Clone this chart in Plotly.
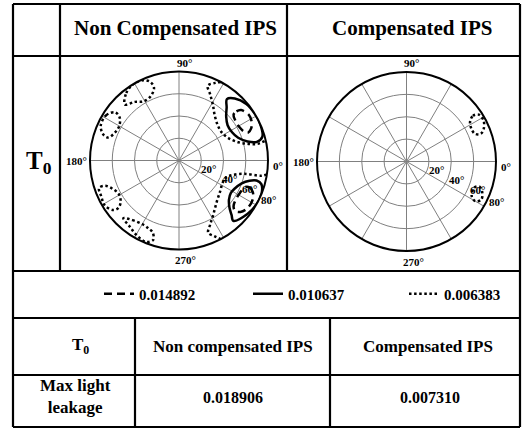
import math
import plotly.graph_objects as go

W, H = 523, 429

# ---------------- data ----------------
level_names = ["0.014892", "0.010637", "0.006383"]

# Non compensated IPS, level 0.006383 (dotted)
nc_dot_ur_r = [80, 77, 72, 66, 59, 52, 47, 46, 49, 56, 64, 72, 80]
nc_dot_ur_t = [62, 65, 69, 65, 59, 52, 42, 33, 24, 17, 13.5, 12, 13]
nc_dot_lr_r = [80, 75, 60, 50, 45.5, 44, 46, 50, 57, 64, 70, 75, 80]
nc_dot_lr_t = [-9, -10.5, -11.5, -15, -19, -27, -36, -47, -57, -64, -68, -65, -62]
nc_dot_l1_r = [70, 77, 80, 79, 75, 69, 63, 62, 66, 70]
nc_dot_l1_t = [134, 128, 121, 114, 110, 109, 114, 121, 127, 134]
nc_dot_l2_r = [77, 77, 72, 66, 62, 63, 67, 72, 77]
nc_dot_l2_t = [156, 148, 143, 144, 150, 157, 162, 161, 156]
nc_dot_l3_r = [76, 70, 65, 62, 64, 69, 74, 78, 77, 76]
nc_dot_l3_t = [199, 199, 203, 209, 215, 218, 217, 211, 205, 199]
nc_dot_l4_r = [72, 68, 66, 67, 69, 75, 79, 77, 74, 72]
nc_dot_l4_t = [226, 232, 241, 246, 250, 252, 248, 240, 233, 226]

# Non compensated IPS, level 0.010637 (solid)
nc_sol_u_r = [70, 75, 79, 80, 80, 78, 72, 64, 57, 54, 54, 58, 64, 70]
nc_sol_u_t = [52, 48, 40, 32, 24, 16, 13.5, 15.5, 21, 28, 36, 43, 48, 52]
nc_sol_l_r = [56, 60, 66, 72, 77, 80, 80, 78, 73, 68, 62, 57, 55, 56]
nc_sol_l_t = [-27, -20, -16, -14.5, -16, -22, -30, -38, -48, -46, -43, -38, -32, -27]

# Non compensated IPS, level 0.014892 (dashed)
nc_das_u_r = [64, 68, 72, 75, 74, 71, 67, 64, 62, 62, 64]
nc_das_u_t = [40, 40.5, 39, 33, 28, 24, 22, 24, 29, 35, 40]
nc_das_l_r = [64, 68, 72, 75, 75, 72, 68, 64, 62, 62, 64]
nc_das_l_t = [-22, -21, -23, -28, -35, -40, -42, -40, -35, -28, -22]

# Compensated IPS, level 0.006383 (dotted)
c_dot_u_r = [67, 72, 77, 78, 75, 71, 66, 65, 67]
c_dot_u_t = [32, 34.5, 33, 28, 23, 20.5, 22, 27, 32]
c_dot_l_r = [65, 69, 73, 75, 71, 66, 65]
c_dot_l_t = [-21, -19, -22, -27, -30, -28, -21]

radial_ticks = [20, 40, 60, 80]
radial_labels = ["20°", "40°", "60°", "80°"]
radial_label_theta = [-16, -20, -22, -24]
angular_grid = list(range(0, 360, 30))
angular_label_theta = [-3, 87, 180, 274]
angular_labels = ["0°", "90°", "180°", "270°"]
angular_label_r = [89, 88, 92, 90]

col_headers = ["Non Compensated IPS", "Compensated IPS"]
row_label = "T<sub>0</sub>"
table_cols = ["T<sub>0</sub>", "Non compensated IPS", "Compensated IPS"]
table_row = ["Max light<br>leakage", "0.018906", "0.007310"]


def join(*parts):
    out_r, out_t = [], []
    for r, t in parts:
        if out_r:
            out_r.append(None)
            out_t.append(None)
        out_r += r
        out_t += t
    return out_r, out_t


FONT = "Liberation Serif"
DOT = "2.5px,2.6px"
DASH = "8px,5px"

fig = go.Figure()

r, t = join((nc_das_u_r, nc_das_u_t), (nc_das_l_r, nc_das_l_t))
fig.add_trace(go.Scatterpolar(r=r, theta=t, mode="lines", name=level_names[0],
                              line=dict(color="black", width=2.5, dash=DASH, shape="spline"),
                              subplot="polar", legendgroup="a", legendwidth=104))
r, t = join((nc_sol_u_r, nc_sol_u_t), (nc_sol_l_r, nc_sol_l_t))
fig.add_trace(go.Scatterpolar(r=r, theta=t, mode="lines", name=level_names[1],
                              line=dict(color="black", width=2.5, shape="spline"),
                              subplot="polar", legendgroup="b", legendwidth=111))
r, t = join((nc_dot_ur_r, nc_dot_ur_t), (nc_dot_lr_r, nc_dot_lr_t),
            (nc_dot_l1_r, nc_dot_l1_t), (nc_dot_l2_r, nc_dot_l2_t),
            (nc_dot_l3_r, nc_dot_l3_t), (nc_dot_l4_r, nc_dot_l4_t))
fig.add_trace(go.Scatterpolar(r=r, theta=t, mode="lines", name=level_names[2],
                              line=dict(color="black", width=2.5, dash=DOT, shape="spline"),
                              subplot="polar", legendgroup="c", legendwidth=60))
r, t = join((c_dot_u_r, c_dot_u_t), (c_dot_l_r, c_dot_l_t))
fig.add_trace(go.Scatterpolar(r=r, theta=t, mode="lines", name=level_names[2],
                              line=dict(color="black", width=2.5, dash=DOT, shape="spline"),
                              subplot="polar2", legendgroup="c", showlegend=False))


def px(x):
    return x / W


def py(y):
    return 1 - y / H


# polar subplot boxes in pixels (x0, x1, y0_top, y1_bottom)
boxes = {"polar": (90, 268, 71, 250), "polar2": (317, 496, 72, 251)}

polar_common = dict(
    bgcolor="white",
    radialaxis=dict(range=[0, 80], tickvals=radial_ticks[:-1], showticklabels=False,
                    ticks="", showline=False, gridcolor="#808080", gridwidth=1),
    angularaxis=dict(tickvals=angular_grid, showticklabels=False,
                     ticks="", showline=True, linecolor="black", linewidth=2,
                     gridcolor="#808080", gridwidth=1, direction="counterclockwise", rotation=0),
)

layout_polars = {}
for name, (x0, x1, yt, yb) in boxes.items():
    layout_polars[name] = dict(domain=dict(x=[px(x0), px(x1)], y=[py(yb), py(yt)]), **polar_common)

fig.update_layout(
    width=W, height=H, autosize=False,
    margin=dict(l=0, r=0, t=0, b=0),
    paper_bgcolor="white", plot_bgcolor="white",
    legend=dict(orientation="h", x=px(99), y=py(294), xanchor="left", yanchor="middle",
                font=dict(family=FONT, size=15, color="black", weight="bold"),
                bgcolor="rgba(0,0,0,0)", traceorder="normal"),
    **layout_polars,
)

# table rules
lines = [
    (13, 4, 520, 4), (13, 427, 520, 427), (13, 4, 13, 427), (520, 4, 520, 427),
    (60, 4, 60, 271), (287, 4, 287, 271),
    (13, 56, 520, 56), (13, 271, 520, 271), (13, 318, 520, 318), (13, 375, 520, 375),
    (135, 318, 135, 427), (330, 318, 330, 427),
]
for x0, y0, x1, y1 in lines:
    fig.add_shape(type="line", xref="paper", yref="paper",
                  x0=px(x0), y0=py(y0), x1=px(x1), y1=py(y1),
                  line=dict(color="black", width=2.2))


def ann(text, x, y, size):
    fig.add_annotation(text=text, x=px(x), y=py(y), xref="paper", yref="paper",
                       showarrow=False, xanchor="center", yanchor="middle",
                       font=dict(family=FONT, size=size, color="black", weight="bold"))


# polar axis labels, placed from each subplot's geometry
for name, (x0, x1, yt, yb) in boxes.items():
    cx, cy = (x0 + x1) / 2, (yt + yb) / 2
    k = min(x1 - x0, yb - yt) / 2 / radial_ticks[-1]
    for rr, th, txt in zip(angular_label_r, angular_label_theta, angular_labels):
        a = math.radians(th)
        ann(txt, cx + rr * k * math.cos(a), cy - rr * k * math.sin(a), 11)
    for rr, th, txt in zip(radial_ticks, radial_label_theta, radial_labels):
        a = math.radians(th)
        ann(txt, cx + (rr + 8) * k * math.cos(a), cy - (rr + 8) * k * math.sin(a), 11)

ann(col_headers[0], 175, 28, 21)
ann(col_headers[1], 412, 28, 21)
ann(row_label, 39, 162, 25)
ann(table_cols[0], 80, 346, 17)
ann(table_cols[1], 233, 346, 17)
ann(table_cols[2], 428, 346, 17)
ann(table_row[0], 75, 396, 17)
ann(table_row[1], 233, 397, 16)
ann(table_row[2], 430, 397, 16)

fig.write_html("out.html", config={"displayModeBar": False},
               post_script="document.body.style.margin='0px';"
                           "document.body.style.overflow='hidden';")
